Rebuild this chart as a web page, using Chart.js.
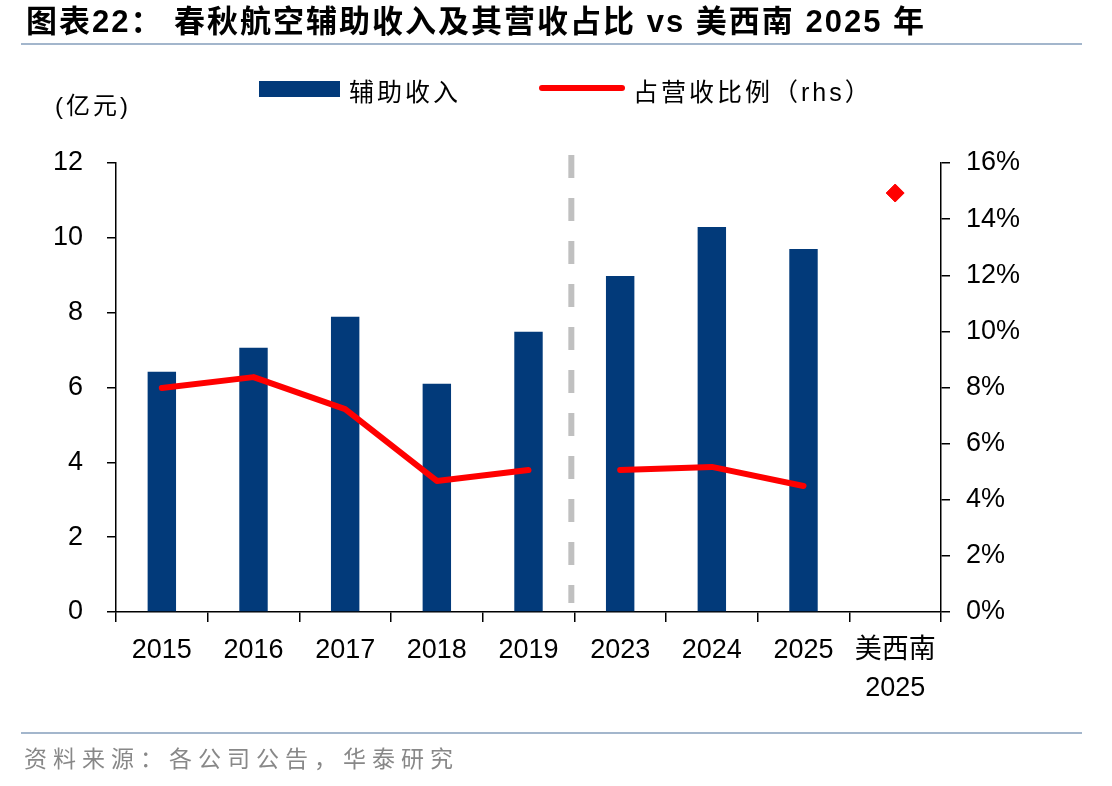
<!DOCTYPE html>
<html>
<head>
<meta charset="utf-8">
<script src="https://cdn.jsdelivr.net/npm/chart.js@4"></script>
<style>
  body { margin: 0; background: #fff; }
  #wrap { position: relative; width: 1112px; height: 786px; overflow: hidden; font-family: 'Liberation Sans', 'Noto Sans CJK SC', sans-serif; }
  #chart { position: absolute; left: 0; top: 0; }
  .abs { position: absolute; white-space: nowrap; }
  #title { left: 26px; top: 6px; font-size: 31px; line-height: 1; font-weight: bold; color: #000; letter-spacing: 2px; }
  #title-rule { left: 21px; top: 43px; width: 1061px; height: 2px; background: #a3b6cc; }
  #foot-rule { left: 21px; top: 732px; width: 1061px; height: 2px; background: #a3b6cc; }
  #source { left: 24px; top: 740px; font-size: 23px; color: #888; letter-spacing: 6px; }
  #unit { left: 55px; top: 86px; font-size: 24px; color: #000; letter-spacing: 3px; }
  .leg-text { font-size: 25px; color: #000; top: 72px; letter-spacing: 3px; }
</style>
</head>
<body>
<div id="wrap">
  <canvas id="chart" width="1112" height="786"></canvas>
  <div id="title" class="abs">图表22：&nbsp;春秋航空辅助收入及其营收占比 vs 美西南 2025 年</div>
  <div id="title-rule" class="abs"></div>
  <div class="abs" style="left:259px;top:81px;width:81px;height:16px;background:#023a7a"></div>
  <div class="abs leg-text" style="left:349px">辅助收入</div>
  <div class="abs" style="left:539px;top:85px;width:86px;height:6px;border-radius:3px;background:#ff0000"></div>
  <div class="abs leg-text" style="left:633px">占营收比例（rhs）</div>
  <div id="unit" class="abs">(亿元)</div>
  <div id="foot-rule" class="abs"></div>
  <div id="source" class="abs">资料来源：各公司公告，华泰研究</div>
</div>
<script>
// ── Data ──────────────────────────────────────────────
const categories = ['2015', '2016', '2017', '2018', '2019', '2023', '2024', '2025', ['美西南', '2025']];
const ancillaryRevenue = [6.42, 7.06, 7.89, 6.1, 7.49, 8.98, 10.29, 9.7, null];   // 亿元
const revenueShare = [7.98, 8.37, 7.23, 4.67, 5.06, 5.06, 5.17, 4.49, null];       // %
const southwestShare = [null, null, null, null, null, null, null, null, 14.93];    // %
const leftTicks = [0, 2, 4, 6, 8, 10, 12];
const rightTicks = [0, 2, 4, 6, 8, 10, 12, 14, 16];

const NAVY = '#023a7a';
const RED = '#ff0000';
const tickFont = { family: "'Liberation Sans', 'Noto Sans CJK SC', sans-serif", size: 27 };

// dashed separator between 2019 and 2023
const separator = {
    id: 'separator',
    beforeDatasetsDraw(chart) {
        const x = chart.scales.x;
        const px = (x.getPixelForValue(4) + x.getPixelForValue(5)) / 2 - 3;
        const c = chart.ctx;
        c.save();
        c.strokeStyle = '#c0c0c0';
        c.lineWidth = 6;
        c.setLineDash([23, 20]);
        c.beginPath();
        c.moveTo(px, chart.chartArea.top - 8);
        c.lineTo(px, chart.chartArea.bottom - 9);
        c.stroke();
        c.restore();
    }
};

new Chart(document.getElementById('chart'), {
    data: {
        labels: categories,
        datasets: [
            {
                type: 'line', label: '占营收比例（rhs）', data: revenueShare, yAxisID: 'y1',
                borderColor: RED, borderWidth: 6, pointRadius: 0, borderCapStyle: 'round', borderJoinStyle: 'round',
                spanGaps: false, order: 0,
                segment: { borderColor: ctx => ctx.p0DataIndex === 4 ? 'rgba(0,0,0,0)' : RED }
            },
            {
                type: 'line', label: '美西南', data: southwestShare, yAxisID: 'y1', showLine: false,
                pointStyle: 'rectRot', pointRadius: 9, pointBackgroundColor: RED, pointBorderColor: RED, order: 0
            },
            {
                type: 'bar', label: '辅助收入', data: ancillaryRevenue, yAxisID: 'y',
                backgroundColor: NAVY, barPercentage: 0.31, categoryPercentage: 1, order: 1
            }
        ]
    },
    options: {
        responsive: false,
        animation: false,
        layout: { padding: { top: 163, left: 0, right: 0, bottom: 0 } },
        plugins: { legend: { display: false }, tooltip: { enabled: false } },
        scales: {
            x: {
                offset: true,
                grid: { offset: true, drawOnChartArea: false, drawTicks: true, tickLength: 10, color: '#000', lineWidth: 1.5 },
                border: { display: true, color: '#000', width: 1.5 },
                ticks: { color: '#000', font: { ...tickFont, lineHeight: 1.4 }, padding: 10, maxRotation: 0, autoSkip: false },
                afterFit: s => { s.height = 174; }
            },
            y: {
                position: 'left', min: 0, max: 12,
                afterBuildTicks: s => { s.ticks = leftTicks.map(v => ({ value: v })); },
                grid: { drawOnChartArea: false, drawTicks: true, tickLength: 9, color: '#000', lineWidth: 1.5 },
                border: { display: true, color: '#000', width: 1.5 },
                ticks: { color: '#000', font: tickFont, padding: 24 },
                afterFit: s => { s.width = 116; }
            },
            y1: {
                position: 'right', min: 0, max: 16,
                afterBuildTicks: s => { s.ticks = rightTicks.map(v => ({ value: v })); },
                grid: { drawOnChartArea: false, drawTicks: true, tickLength: 9, color: '#000', lineWidth: 1.5 },
                border: { display: true, color: '#000', width: 1.5 },
                ticks: { color: '#000', font: tickFont, padding: 16, callback: v => v + '%' },
                afterFit: s => { s.width = 171; }
            }
        }
    },
    plugins: [separator]
});
</script>
</body>
</html>
